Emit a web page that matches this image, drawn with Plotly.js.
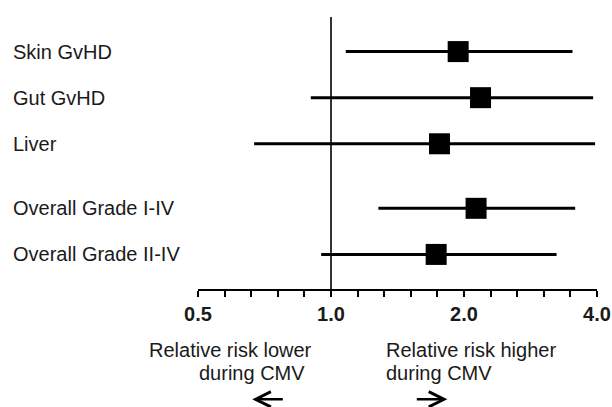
<!DOCTYPE html>
<html>
<head>
<meta charset="utf-8">
<script src="https://cdn.plot.ly/plotly-3.0.1.min.js"></script>
<style>html,body{margin:0;padding:0;background:#fff;}#chart{width:612px;height:407px;}</style>
</head>
<body>
<div id="chart"></div>
<script>
// ---- data ----
var categories = ['Skin GvHD', 'Gut GvHD', 'Liver', 'Overall Grade I-IV', 'Overall Grade II-IV'];
var groups     = [0, 0, 0, 1, 1];
var estimate   = [1.94, 2.18, 1.76, 2.13, 1.73];
var lower      = [1.08, 0.90, 0.67, 1.28, 0.95];
var upper      = [3.52, 3.92, 3.96, 3.57, 3.24];
var majorTicks = [0.5, 1, 2, 4];
var tickLabels = ['0.5', '1.0', '2.0', '4.0'];
var noteLower  = ['Relative risk lower', 'during CMV'];
var noteHigher = ['Relative risk higher', 'during CMV'];

// ---- derived ----
var rowY = categories.map(function (c, i) { return i + groups[i] * 0.4; });
var errPlus = estimate.map(function (v, i) { return upper[i] - v; });
var errMinus = estimate.map(function (v, i) { return v - lower[i]; });

var allTicks = [], allText = [];
for (var k = -5; k <= 10; k++) {
  var v = Math.pow(2, k / 5);
  var m = majorTicks.findIndex(function (t) { return Math.abs(t - v) < 1e-9; });
  allTicks.push(m >= 0 ? majorTicks[m] : v);
  allText.push(m >= 0 ? tickLabels[m] : '');
}

var FONT = 'Liberation Sans, Arial, sans-serif';
var TXT = '#1a1a1a';

// layout geometry (pixels)
var L = 197.7, R = 15.3, T = 17, B = 117.5, W = 612, H = 407;
var pw = W - L - R, ph = H - T - B;
function px(p) { return (p - L) / pw; }
function py(p) { return (H - B - p) / ph; }

var trace = {
  type: 'scatter',
  mode: 'markers',
  x: estimate,
  y: rowY,
  marker: { symbol: 'square', size: 21, color: '#000' },
  error_x: {
    type: 'data', symmetric: false,
    array: errPlus, arrayminus: errMinus,
    width: 0, thickness: 3, color: '#000'
  },
  hoverinfo: 'skip',
  showlegend: false
};

var annotations = [];
categories.forEach(function (c, i) {
  annotations.push({
    xref: 'paper', yref: 'y', x: px(11), y: rowY[i],
    xanchor: 'left', yanchor: 'middle', showarrow: false,
    text: c, font: { family: FONT, size: 20, color: TXT }
  });
});
annotations.push({ xref: 'paper', yref: 'paper', x: px(314), y: py(351), xanchor: 'right', yanchor: 'middle',
  showarrow: false, text: noteLower[0], font: { family: FONT, size: 20, color: TXT } });
annotations.push({ xref: 'paper', yref: 'paper', x: px(306.5), y: py(374), xanchor: 'right', yanchor: 'middle',
  showarrow: false, text: noteLower[1], font: { family: FONT, size: 20, color: TXT } });
annotations.push({ xref: 'paper', yref: 'paper', x: px(384), y: py(351), xanchor: 'left', yanchor: 'middle',
  showarrow: false, text: noteHigher[0], font: { family: FONT, size: 20, color: TXT } });
annotations.push({ xref: 'paper', yref: 'paper', x: px(384), y: py(374), xanchor: 'left', yanchor: 'middle',
  showarrow: false, text: noteHigher[1], font: { family: FONT, size: 20, color: TXT } });
// arrows
annotations.push({ xref: 'paper', yref: 'paper', x: px(252), y: py(400), ax: 32, ay: 0,
  showarrow: true, arrowhead: 5, arrowsize: 1.2, arrowwidth: 2.5, arrowcolor: '#000', text: '' });
annotations.push({ xref: 'paper', yref: 'paper', x: px(447), y: py(400), ax: -32, ay: 0,
  showarrow: true, arrowhead: 5, arrowsize: 1.2, arrowwidth: 2.5, arrowcolor: '#000', text: '' });

var layout = {
  width: W, height: H,
  margin: { l: L, r: R, t: T, b: B, pad: 0 },
  paper_bgcolor: '#fff', plot_bgcolor: '#fff',
  font: { family: FONT, color: TXT },
  xaxis: {
    type: 'log',
    range: [Math.log10(0.5) - 1e-6, Math.log10(4) + 1e-6],
    tickmode: 'array', tickvals: allTicks, ticktext: allText,
    ticks: 'outside', ticklen: 6, tickwidth: 2, tickcolor: '#000',
    showline: true, linewidth: 2, linecolor: '#000',
    showgrid: false, zeroline: false,
    tickfont: { family: FONT, size: 20, color: TXT, weight: 'bold' },
    fixedrange: true
  },
  yaxis: {
    range: [5.15, -0.75],
    visible: false, showgrid: false, zeroline: false, fixedrange: true
  },
  shapes: [{
    type: 'line', xref: 'x', yref: 'paper', x0: 1, x1: 1, y0: 0, y1: 1,
    line: { color: '#000', width: 1.6 }, layer: 'below'
  }],
  annotations: annotations
};

Plotly.newPlot('chart', [trace], layout, { staticPlot: true, displayModeBar: false });
</script>
</body>
</html>
